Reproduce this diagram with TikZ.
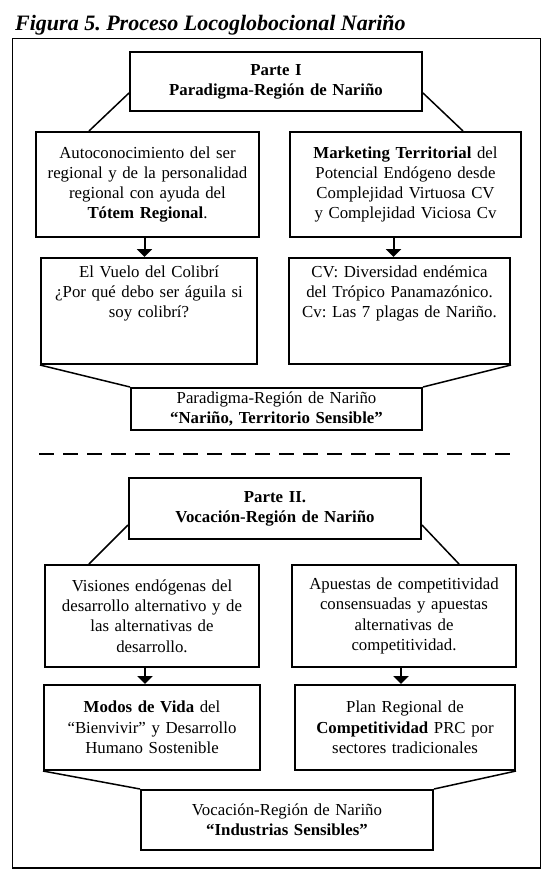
\documentclass[tikz,border=0pt]{standalone}
\usepackage{fontspec}
\setmainfont{Liberation Serif}
\usetikzlibrary{arrows.meta}
\tikzset{caja/.style = {draw, line width=2pt, align=center, inner xsep=3pt, inner ysep=2pt,
                        font=\fontsize{16.8}{20.3}\selectfont}}
\tikzset{flecha/.style = {line width=2pt, -{Triangle[width=15pt, length=8pt]}}}
\tikzset{enlace/.style = {line width=1.5pt}}
\frenchspacing

\begin{document}
\begin{tikzpicture}[x=1pt, y=-1pt]
      \useasboundingbox (0, 0) rectangle (544, 871);
      \node [anchor=base west, inner sep=0pt, font=\fontsize{22}{26}\selectfont\bfseries\itshape] (titulo) at (15, 30) {Figura 5. Proceso Locoglobocional Nariño};
      \draw [line width=1.2pt] (12.5, 38.5) rectangle (540.5, 868);

      \node [caja, text width=286pt, minimum height=59pt] (parteI) at (276, 81.5) {\textbf{Parte I}\\ \textbf{Paradigma-Región de Nariño}};
      \node [caja, text width=217pt, minimum height=105pt] (autoc) at (147.5, 184.5) {Autoconocimiento del ser\\ regional y de la personalidad\\ regional con ayuda del\\ \textbf{Tótem Regional}.};
      \node [caja, text width=225pt, minimum height=105pt] (mkt) at (405.5, 184.5) {\textbf{Marketing Territorial} del\\ Potencial Endógeno desde\\ Complejidad Virtuosa CV\\ y Complejidad Viciosa Cv};
      \node [caja, text width=210pt, text height=17pt, text depth=85pt] (colibri) at (149, 311) {El Vuelo del Colibrí\\ ¿Por qué debo ser águila si\\ soy colibrí?};
      \node [caja, text width=215pt, text height=17pt, text depth=85pt] (cv) at (399.5, 311) {CV: Diversidad endémica\\ del Trópico Panamazónico.\\ Cv: Las 7 plagas de Nariño.};
      \node [caja, text width=285pt, minimum height=42pt] (paradigma) at (276.5, 409) {Paradigma-Región de Nariño\\ \textbf{“Nariño, Territorio Sensible”}};

      \draw [enlace] ([yshift=-11.5pt]parteI.west) -- ([xshift=54pt]autoc.north west);
      \draw [enlace] ([yshift=-11.5pt]parteI.east) -- ([xshift=-59pt]mkt.north east);
      \draw [flecha] ([xshift=-3pt]autoc.south) -- ([xshift=-3pt]autoc.south |- colibri.north);
      \draw [flecha] ([xshift=-12pt]mkt.south) -- ([xshift=-12pt]mkt.south |- cv.north);
      \draw [enlace] (colibri.south west) -- (paradigma.north west);
      \draw [enlace] (cv.south east) -- (paradigma.north east);

      \draw [line width=2pt, dash pattern=on 15pt off 9pt] (39, 453.5) -- (510, 453.5);

      \node [caja, text width=286pt, minimum height=61pt] (parteII) at (275, 508.5) {\textbf{Parte II.}\\ \textbf{Vocación-Región de Nariño}};
      \node [caja, text width=208pt, minimum height=102pt] (visiones) at (152, 616) {Visiones endógenas del\\ desarrollo alternativo y de\\ las alternativas de\\ desarrollo.};
      \node [caja, text width=218pt, minimum height=102pt] (apuestas) at (404, 616) {Apuestas de competitividad\\ consensuadas y apuestas\\ alternativas de\\ competitividad.};
      \node [caja, text width=210pt, minimum height=85pt] (modos) at (152, 727.5) {\textbf{Modos de Vida} del\\ “Bienvivir” y Desarrollo\\ Humano Sostenible};
      \node [caja, text width=214pt, minimum height=85pt] (plan) at (405, 727.5) {Plan Regional de\\ \textbf{Competitividad} PRC por\\ sectores tradicionales};
      \node [caja, text width=286pt, minimum height=60pt] (industrias) at (287, 820) {Vocación-Región de Nariño\\ \textbf{“Industrias Sensibles”}};

      \draw [enlace] ([yshift=-16.5pt]parteII.west) -- ([xshift=45pt]visiones.north west);
      \draw [enlace] ([yshift=-16.5pt]parteII.east) -- ([xshift=-58pt]apuestas.north east);
      \draw [flecha] ([xshift=-7pt]visiones.south) -- ([xshift=-7pt]visiones.south |- modos.north);
      \draw [flecha] ([xshift=-3pt]apuestas.south) -- ([xshift=-3pt]apuestas.south |- plan.north);
      \draw [enlace] (modos.south west) -- (industrias.north west);
      \draw [enlace] (plan.south east) -- (industrias.north east);
\end{tikzpicture}
\end{document}
